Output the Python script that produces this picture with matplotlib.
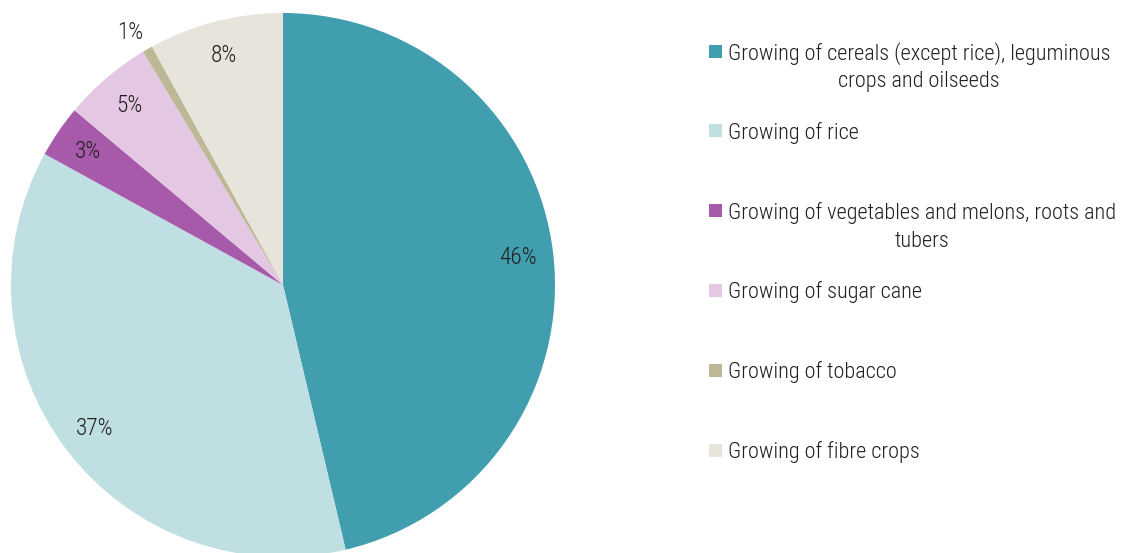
import matplotlib
matplotlib.use("Agg")
import matplotlib.pyplot as plt
from matplotlib.patches import Rectangle

plt.rcParams['font.family'] = ['Roboto Condensed', 'IBM Plex Sans Condensed', 'DejaVu Sans']
plt.rcParams['font.weight'] = 'light'

labels = [
    "Growing of cereals (except rice), leguminous\ncrops and oilseeds",
    "Growing of rice",
    "Growing of vegetables and melons, roots and\ntubers",
    "Growing of sugar cane",
    "Growing of tobacco",
    "Growing of fibre crops",
]
shares = [46.3, 36.7, 3.1, 5.3, 0.6, 8.0]
colors = ["#419EAE", "#BFDFE3", "#A85AAA", "#E3C7E3", "#BCB795", "#E7E5DB"]
text_color = "#231F20"
legend_size = 16
pct_size = 16.8

W, H = 1125, 553
fig = plt.figure(figsize=(W / 100, H / 100), dpi=100)

# pie sits on the left, centred at (283, 285) px with radius 272 px
cx, cy, r = 283, 285, 272
ax = fig.add_axes([(cx - r) / W, (H - cy - r) / H, 2 * r / W, 2 * r / H])
wedges, texts, autotexts = ax.pie(
    shares, colors=colors, startangle=90, counterclock=False,
    autopct=lambda p: f"{p:.0f}%", pctdistance=0.87, radius=1,
    wedgeprops=dict(linewidth=0),
    textprops=dict(fontsize=pct_size, color=text_color),
)
# tiny tobacco slice gets its label just outside the pie
x4, y4 = autotexts[4].get_position()
autotexts[4].set_position((x4 / 0.87 * 1.07 - 0.03, y4 / 0.87 * 1.07))
ax.set_xlim(-1, 1)
ax.set_ylim(-1, 1)
ax.set_aspect("equal")
ax.axis("off")

# legend drawn by hand: square marker + centred multi-line text
# (baseline alignment anchors the last line, so push wrapped labels down)
y0, step, line_h = 51, 79.8, 28
for i, (lab, col) in enumerate(zip(labels, colors)):
    yc = y0 + i * step
    extra = lab.count("\n") * line_h
    fig.patches.append(Rectangle((709 / W, 1 - (yc + 6.5) / H), 13 / W, 13 / H,
                                 transform=fig.transFigure, facecolor=col,
                                 edgecolor="none"))
    fig.text(728 / W, 1 - (yc + 8 + extra) / H, lab, ha="left", va="baseline",
             multialignment="center", linespacing=1.40,
             fontsize=legend_size, color=text_color)

fig.savefig("out.png", dpi=100)
